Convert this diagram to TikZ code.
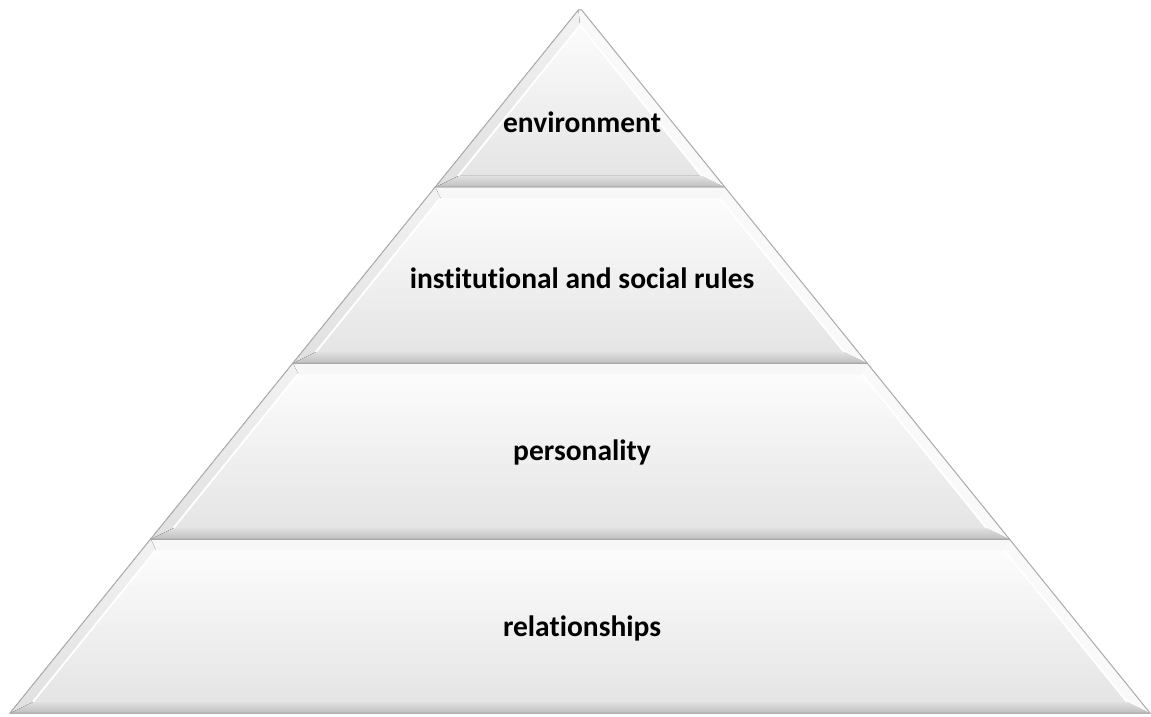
\documentclass[tikz,border=0pt]{standalone}
\usepackage{fontspec}
\setmainfont{Carlito}[Ligatures=NoCommon]
\usetikzlibrary{calc}

\tikzset{
  face/.style={top color=gray!1, bottom color=gray!22},
  bevbot/.style={top color=gray!24, bottom color=gray!50},
  bevtop/.style={fill=gray!6},
  bevleft/.style={top color=gray!10, bottom color=gray!24},
  bevright/.style={fill=gray!5},
  shine/.style={white, line width=1.8pt},
  rim/.style={draw=gray!65, line width=1pt, line join=miter},
  lbl/.style={font=\fontsize{29.5}{34}\selectfont\bfseries}
}

% one slice of the pyramid: #1 bottom, #2 top, #3 name
\newcommand{\pyrlayer}[3]{%
  \pgfmathsetmacro{\wb}{0.8085*(708-#1)}
  \pgfmathsetmacro{\wt}{0.8085*(708-#2)}
  \pgfmathsetmacro{\yib}{#1+11}
  \pgfmathsetmacro{\yit}{min(#2-11,690.7)}
  \pgfmathsetmacro{\wib}{0.8085*(708-\yib)-14}
  \pgfmathsetmacro{\wit}{max(0.8085*(708-\yit)-14,0)}
  \coordinate (#3-bl) at (580-\wb,#1);
  \coordinate (#3-br) at (580+\wb,#1);
  \coordinate (#3-tr) at (580+\wt,#2);
  \coordinate (#3-tl) at (580-\wt,#2);
  \coordinate (#3-ibl) at (580-\wib,\yib);
  \coordinate (#3-ibr) at (580+\wib,\yib);
  \coordinate (#3-itr) at (580+\wit,\yit);
  \coordinate (#3-itl) at (580-\wit,\yit);
  \fill[face] (#3-bl) -- (#3-br) -- (#3-tr) -- (#3-tl) -- cycle;
  \fill[bevbot] (#3-bl) -- (#3-br) -- (#3-ibr) -- (#3-ibl) -- cycle;
  \fill[bevtop] (#3-tl) -- (#3-tr) -- (#3-itr) -- (#3-itl) -- cycle;
  \fill[bevleft] (#3-bl) -- (#3-ibl) -- (#3-itl) -- (#3-tl) -- cycle;
  \fill[bevright] (#3-br) -- (#3-tr) -- (#3-itr) -- (#3-ibr) -- cycle;
  \draw[shine] (#3-ibl) -- (#3-itl);
  \draw[shine] (#3-ibr) -- (#3-itr);
  \draw[rim] (#3-bl) -- (#3-br) -- (#3-tr) -- (#3-tl) -- cycle;
}

\begin{document}
\begin{tikzpicture}[x=1pt, y=1pt]
  \fill[white] (0,0) rectangle (1151,716);
  \useasboundingbox (0,0) rectangle (1151,716);

  \pyrlayer{3}{177}{rellayer}
  \pyrlayer{177}{353}{perlayer}
  \pyrlayer{353}{529}{instlayer}
  \pyrlayer{529}{706}{envlayer}

  \node[lbl] (env) at (582,594) {environment};
  \node[lbl] (inst) at (582,438) {institutional and social rules};
  \node[lbl] (pers) at (582,264) {personality};
  \node[lbl] (rel) at (582,88) {relationships};
\end{tikzpicture}
\end{document}
